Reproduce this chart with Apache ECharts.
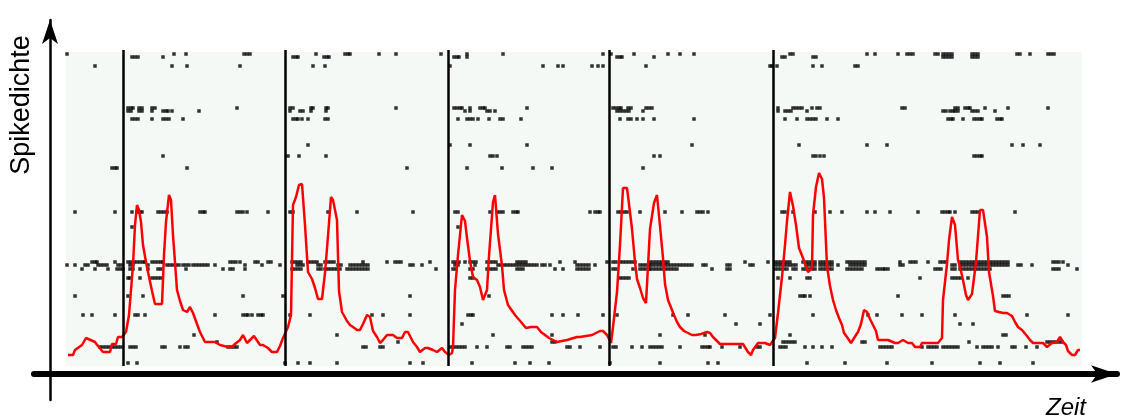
<!DOCTYPE html>
<html>
<head>
<meta charset="utf-8">
<script src="https://cdn.jsdelivr.net/npm/echarts@6/dist/echarts.min.js"></script>
<style>
  html, body { margin: 0; padding: 0; background: #ffffff; }
  #chart { width: 1132px; height: 419px; }
</style>
</head>
<body>
<div id="chart"></div>
<script>
// Stimulus onsets (time units)
const stimulusTimes = [73.5, 235.5, 398, 559, 723.5];

// Recorded window (time span and level span of the shaded trial area)
const windowTime = [16, 1032];
const windowLevel = [8, 322];
const stimulusLineLevel = [8, 324];

// Spike density estimate: [time, density]
const densityCurve = [
  [18,19],[23,19],[25,24],[32,29],[36,36],[45,32],[48,28],[53,22],[60,22],[62,30],
  [66,30],[68,37],[72,37],[76,42],[79,59],[81,84],[83,109],[85,149],[87,169],[89,164],
  [91,152],[93,129],[96,112],[98,102],[102,83],[105,70],[112,70],[114,119],[116,152],[119,179],
  [121,174],[123,139],[127,84],[130,73],[133,64],[137,62],[140,67],[143,61],[147,50],[150,42],
  [153,36],[155,32],[160,32],[165,32],[170,29],[178,27],[182,27],[185,30],[190,34],[193,39],
  [197,31],[204,38],[210,29],[213,29],[218,26],[222,22],[227,22],[230,28],[233,36],[238,47],
  [241,59],[243,169],[246,177],[249,189],[252,190],[255,149],[258,102],[262,95],[265,86],[268,75],
  [272,75],[275,101],[278,138],[281,177],[283,174],[287,154],[289,83],[292,62],[297,53],[300,49],
  [303,47],[307,44],[310,44],[313,50],[317,59],[320,57],[323,43],[327,37],[330,31],[333,34],
  [337,39],[343,39],[347,36],[352,36],[355,42],[358,42],[363,32],[367,27],[370,22],[375,26],
  [378,26],[383,24],[387,22],[392,26],[395,22],[399,19],[402,21],[403,27],[405,84],[408,119],
  [412,159],[415,153],[417,136],[420,113],[423,97],[427,94],[430,87],[433,74],[437,84],[439,118],
  [443,172],[445,179],[448,140],[452,108],[454,84],[458,69],[465,59],[471,52],[476,46],[481,47],
  [487,47],[491,42],[499,36],[507,32],[517,34],[527,37],[530,37],[536,38],[542,39],[550,43],
  [553,43],[557,39],[561,31],[563,47],[567,82],[570,129],[573,186],[577,186],[579,170],[582,145],
  [585,112],[587,95],[590,86],[593,76],[596,71],[600,145],[604,171],[607,179],[610,148],[613,116],
  [615,90],[618,74],[622,64],[624,59],[627,52],[630,47],[634,43],[638,41],[642,39],[646,39],
  [651,40],[657,42],[660,41],[663,37],[666,34],[670,30],[680,30],[693,30],[698,22],[701,19],
  [703,24],[708,31],[715,31],[720,29],[725,36],[728,61],[732,97],[735,129],[737,153],[740,182],
  [743,168],[746,149],[749,126],[753,116],[755,110],[758,102],[762,106],[763,159],[766,187],[769,201],
  [772,195],[774,176],[777,108],[780,88],[783,74],[786,64],[789,56],[792,49],[794,41],[797,37],
  [801,31],[806,39],[808,42],[811,50],[814,64],[817,62],[820,55],[823,49],[826,43],[828,34],
  [838,34],[845,31],[848,31],[853,34],[858,31],[862,31],[865,27],[870,27],[872,31],[877,31],
  [888,31],[892,36],[893,74],[897,110],[899,134],[902,157],[905,149],[908,114],[911,103],[913,94],
  [916,79],[918,74],[922,80],[926,112],[930,164],[933,164],[937,137],[939,102],[943,78],[945,63],
  [953,61],[957,61],[962,58],[965,52],[968,47],[972,44],[977,38],[980,34],[983,31],[993,31],
  [997,27],[1002,31],[1007,32],[1010,37],[1013,32],[1016,29],[1018,23],[1022,19],[1025,19],[1028,24],
  [1030,24]
];

// Raster rows: level of each row and the spike times in it
const rowLevel = [320, 317, 308, 266, 263, 255, 229, 218, 206, 162, 147, 112, 109, 105, 96, 78, 59, 50, 39, 32, 27, 11];
const spikeTimes = [
  [17,124,136,194,197,200,266,295,298,300,329,346,391,417,453,553,561,584,618,630,644,740,743,817,825,848,857,860,863,885,888,893,896,899,902,922,925,928,967,970,980,998,1001,1004],
  [82,85,88,113,243,246,248,274,277,279,404,407,409,417,567,570,572,604,732,735,763,766,893,896,899,902,922,925,928],
  [45,122,137,190,263,275,400,493,508,513,542,548,553,596,720,722,727,763,772,805,808],
  [78,81,83,89,92,102,105,187,240,243,261,263,276,278,346,404,407,410,412,420,430,433,435,477,563,566,569,571,578,581,596,599,602,728,743,746,749,752,762,767,770,852,855,905,908,915,918,920,935,958,998],
  [78,81,89,92,102,113,116,118,122,149,240,250,253,261,276,415,420,437,440,445,567,570,573,576,579,593,728,735,738,741,757,893,896,900,903,905,908,922,925,928,945],
  [82,85,88,102,113,116,119,133,243,246,248,252,258,275,278,408,417,420,423,428,439,450,453,471,570,578,581,587,593,604,644,735,747,757,760,763,766,777,788,898,901,903,913,924,927,930,932,947,950,952],
  [258,400,420,477,642,749,817,837,962,973,990],
  [113,238,249,276,440,443,447,604,610,763,766,770,774,924,927,930,932],
  [62,65,67,137,357,417,452,483,502,593],
  [25,65,82,87,90,92,108,111,114,117,150,153,155,187,190,193,197,218,240,243,278,307,363,405,408,440,447,450,453,463,466,468,540,545,548,550,568,571,574,577,590,615,632,647,650,653,658,732,735,743,765,780,792,817,825,840,868,892,895,898,900,905,922,925,928,965],
  [82,408],
  [42,45,47,65,78,81,84,87,90,93,95,102,105,108,111,113,180,183,186,190,205,208,218,221,242,245,248,251,258,261,264,267,275,278,281,284,313,337,345,348,351,380,403,406,409,415,420,423,426,437,440,443,446,467,470,473,476,510,525,557,563,566,570,573,576,579,582,585,600,603,606,609,612,615,618,695,718,725,728,731,734,737,740,753,756,759,762,765,770,773,776,779,782,797,800,803,806,809,812,815,850,860,863,866,878,890,893,896,910,913,916,919,922,925,928,931,934,937,940,943,946,949,952,955,958,1003,1006,1009,1013],
  [17,25,35,38,48,51,54,57,68,71,80,83,98,117,120,123,126,129,133,136,139,143,146,149,152,155,158,165,195,212,230,247,250,253,268,271,288,291,300,303,306,309,312,315,318,360,363,372,405,408,425,448,451,454,457,460,463,466,469,472,475,478,481,484,487,492,495,500,527,530,533,536,539,545,590,593,596,599,600,603,606,609,612,615,618,621,624,627,630,633,636,639,642,653,656,677,680,700,703,725,728,731,734,737,740,743,746,756,759,762,765,770,773,776,779,782,788,800,803,806,809,812,815,850,853,902,905,910,913,916,919,922,925,928,931,934,937,940,943,946,949,952,955,958,968,971,982,1018],
  [32,45,58,67,70,73,80,83,90,98,108,111,136,173,180,183,195,242,245,248,251,268,271,275,278,281,284,287,290,297,300,303,306,309,312,315,318,386,403,406,420,423,437,440,443,446,467,470,473,505,513,527,530,533,536,539,563,566,583,590,593,596,599,600,603,606,609,612,615,618,621,624,627,662,677,680,725,728,731,734,737,743,746,753,756,759,762,765,770,773,776,779,782,797,800,803,806,809,812,827,830,833,835,838,885,888,891,902,905,910,913,916,919,922,925,928,931,934,937,940,1003,1006,1009,1027],
  [78,80,90,102,105,108,111,420,423,570,573,576,579,728,740,757,760,870,902,905,908,911,918],
  [25,78,93,193,233,360,439,750,753,755,760,848,953,956,959],
  [33,42,65,85,88,95,165,193,196,198,202,208,211,213,240,260,322,333,360,418,421,423,502,513,528,553,567,623,638,675,720,763,818,827,852,872,905,977,1018],
  [412,686,710,910,923],
  [144,287,443,502,610,655,740,953,956],
  [167,348,502,505,733,736,739,742,745,812,815,919,997,1000,1003,1006,1009,1012],
  [50,53,56,59,62,65,68,71,80,83,86,112,115,130,135,138,178,181,184,187,313,316,330,333,400,403,406,409,412,415,427,437,457,460,473,476,479,482,517,520,530,550,563,566,582,592,600,603,606,609,612,630,652,655,658,660,672,690,707,710,730,733,736,755,763,772,782,830,833,836,839,842,872,878,881,884,887,893,896,899,902,905,908,927,933,936,939,942,948,962,965,976,987],
  [78,87,235,248,260,287,360,373,422,465,480,499,560,610,658,668,757,795,837,882,930,950,983]
];

const rasterPoints = [];
rowLevel.forEach((level, i) => {
  spikeTimes[i].forEach(t => rasterPoints.push([t, level]));
});

const chart = echarts.init(document.getElementById('chart'), null, { renderer: 'canvas' });

const option = {
  animation: false,
  backgroundColor: '#ffffff',
  grid: { left: 34, right: 15, top: 20, bottom: 19 },
  xAxis: {
    type: 'value',
    min: -16,
    max: 1067,
    axisLine: {
      show: true,
      onZero: true,
      lineStyle: { color: '#000000', width: 6 },
      symbol: ['none', 'arrow'],
      symbolSize: [13, 26]
    },
    axisTick: { show: false },
    axisLabel: { show: false },
    splitLine: { show: false }
  },
  yAxis: {
    type: 'value',
    min: -26,
    max: 354,
    axisLine: {
      show: true,
      onZero: true,
      lineStyle: { color: '#000000', width: 2.5 },
      symbol: ['none', 'arrow'],
      symbolSize: [12, 24]
    },
    axisTick: { show: false },
    axisLabel: { show: false },
    splitLine: { show: false }
  },
  graphic: [
    {
      type: 'text',
      x: 22,
      y: 105,
      rotation: Math.PI / 2,
      style: {
        text: 'Spikedichte',
        font: '27px "Liberation Sans", Arial, sans-serif',
        fill: '#000000',
        align: 'center',
        verticalAlign: 'middle'
      }
    },
    {
      type: 'text',
      x: 1066,
      y: 408,
      style: {
        text: 'Zeit',
        font: 'italic 24px "Liberation Sans", Arial, sans-serif',
        fill: '#000000',
        align: 'center',
        verticalAlign: 'middle'
      }
    }
  ],
  series: [
    {
      // shaded recording window
      type: 'line',
      data: [],
      z: 0,
      silent: true,
      markArea: {
        silent: true,
        itemStyle: { color: '#f4f9f5' },
        label: { show: false },
        data: [[{ coord: [windowTime[0], windowLevel[0]] }, { coord: [windowTime[1], windowLevel[1]] }]]
      }
    },
    {
      // spike raster
      type: 'scatter',
      data: rasterPoints,
      symbol: 'rect',
      symbolSize: 3.5,
      itemStyle: { color: '#000000' },
      silent: true,
      z: 2
    },
    {
      // spike density
      type: 'line',
      data: densityCurve,
      showSymbol: false,
      lineStyle: { color: '#ff0000', width: 2.5 },
      silent: true,
      z: 3,
      markLine: {
        silent: true,
        symbol: ['none', 'none'],
        label: { show: false },
        lineStyle: { color: '#000000', width: 2.5, type: 'solid' },
        data: stimulusTimes.map(t => [
          { coord: [t, stimulusLineLevel[0]] },
          { coord: [t, stimulusLineLevel[1]] }
        ])
      }
    }
  ]
};

chart.setOption(option);
</script>
</body>
</html>
